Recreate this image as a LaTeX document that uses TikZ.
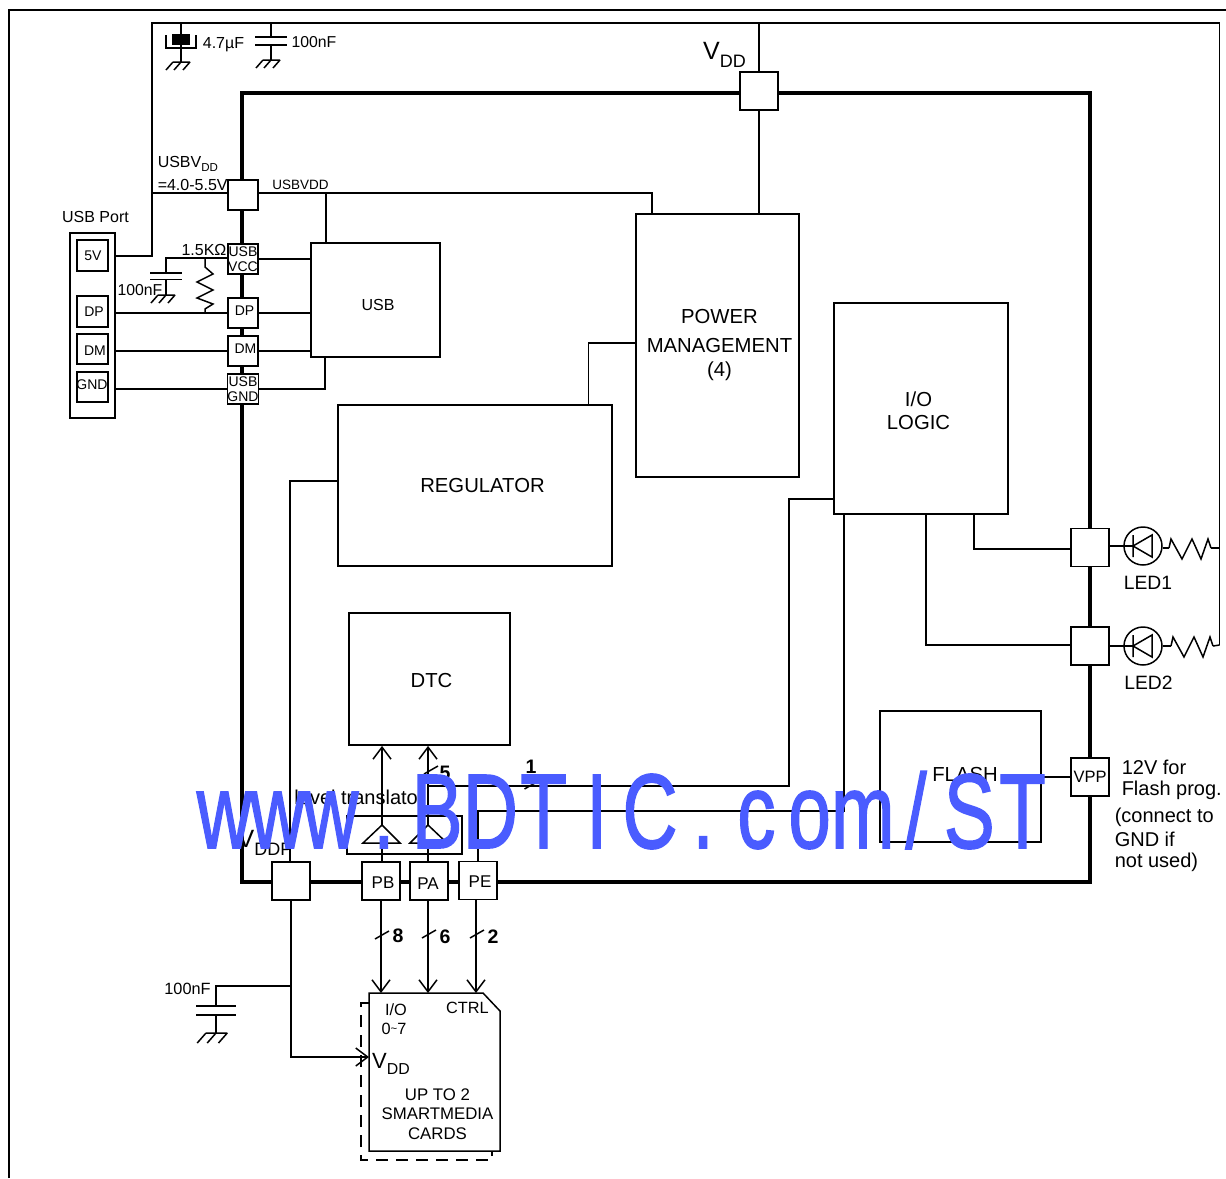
\documentclass[tikz,border=0pt]{standalone}
\usepackage{fontspec}
\setmainfont{Liberation Sans}
\newfontfamily\stampfont[FakeBold=1.6]{Liberation Sans}
\usetikzlibrary{positioning,arrows.meta,calc}
\definecolor{stampblue}{HTML}{4A5CFF}
\newcommand{\lowsub}[1]{\raisebox{-0.3em}{\scalebox{0.72}{#1}}}
\newcommand{\fsz}[1]{\fontsize{#1}{#1}\selectfont}
\newcommand{\stampchar}[1]{\scalebox{0.72}[1]{\makebox[73.9pt]{#1}}}

\begin{document}
\begin{tikzpicture}[
    x=1pt, y=-1pt, line width=1.5pt, >={Straight Barb[length=12pt,width=18pt]},
    font=\fsz{16},
    pad/.style={draw, fill=white, line width=1.8pt, inner sep=0pt, minimum size=30pt, align=center, font=\fontsize{14}{15}\selectfont},
    bigpad/.style={pad, minimum size=38pt, font=\fsz{17}},
    portpin/.style={pad, minimum size=30.5pt},
    blk/.style={draw, line width=1.8pt, inner sep=0pt, align=center},
    txt/.style={inner sep=0pt, align=center},
    lab/.style={txt, font=\fsz{15.8}},
    padtxt/.style={txt, font=\fsz{14}},
    bigtxt/.style={txt, font=\fsz{20.3}},
    portxt/.style={txt, font=\fsz{17}},
    note/.style={inner sep=0pt, align=left, anchor=west, font=\fsz{20}},
    cnt/.style={inner sep=0pt, font=\bfseries\fsz{19.5}},
    led/.style={draw, circle, line width=1.5pt, inner sep=0pt, minimum size=38pt},
    gnd/.pic={\draw (-8,0) -- (9,0) (-8,0) -- (-15,8) (0,0) -- (-7,8) (9,0) -- (2,8);},
    zig/.pic={\draw (0,0) -- (2,-9) -- (13,11) -- (23,-9) -- (32,11) -- (39,-9) -- (42,0);},
    tick/.pic={\draw (-7,4) -- (7,-4);}]
  \useasboundingbox (0,0) rectangle (1226,1178);
  % frame
  \coordinate (fbl) at (9,1178);
  \coordinate (ftl) at (9,10);
  \coordinate (ftr) at (1226,10);
  \draw (fbl) -- (ftl) -- (ftr);
  % chip outline
  \node[draw, line width=4.5pt, minimum width=848pt, minimum height=789pt, inner sep=0pt] (chip) at (666,487.5) {};
  % blocks
  \node[blk, minimum width=163pt, minimum height=263pt] (power) at (717.5,345.5) {};
  \node[bigtxt] (powertxt) at (719.5,345) {POWER\\[9pt]MANAGEMENT\\[3pt](4)};
  \node[blk, minimum width=174pt, minimum height=211pt] (iologic) at (921,408.5) {};
  \node[bigtxt] (iotxt) at (918.5,411) {I/O\\[3pt]LOGIC};
  \node[blk, minimum width=274pt, minimum height=161pt] (reg) at (475,485.5) {};
  \node[bigtxt] (regtxt) at (482.5,486) {REGULATOR};
  \node[blk, minimum width=161pt, minimum height=132pt] (dtc) at (429.5,679) {};
  \node[bigtxt] (dtctxt) at (431.5,681) {DTC};
  \node[blk, minimum width=161pt, minimum height=131pt] (flash) at (960.5,776.5) {};
  \node[bigtxt] (flashtxt) at (965,775) {FLASH};
  \node[blk, minimum width=129pt, minimum height=114pt] (usb) at (375.5,300) {};
  \node[txt, font=\fsz{16}] (usbtxt) at (378,305) {USB};
  % usb port
  \node[draw, line width=1.8pt, minimum width=45pt, minimum height=185pt, inner sep=0pt] (port) at (92.5,325.5) {};
  \node[portpin] (p5v) at (92.5,255.5) {};
  \node[portpin] (pdp) at (92.5,311.5) {};
  \node[portpin] (pdm) at (92.5,349) {};
  \node[portpin] (pgnd) at (92.5,387) {};
  \node[padtxt] (p5vtxt) at (93,256) {5V};
  \node[padtxt] (pdptxt) at (94,312) {DP};
  \node[padtxt] (pdmtxt) at (95,351) {DM};
  \node[padtxt] (pgndtxt) at (92,385) {GND};
  \node[lab, font=\fsz{16}] (porttxt) at (95.5,217) {USB Port};
  % pads
  \node[bigpad] (vddpad) at (759,91) {};
  \node[pad] (usbvdd) at (243,195) {};
  \node[pad] (usbvcc) at (243,259) {USB\\VCC};
  \node[pad] (paddp) at (243,313) {};
  \node[pad] (paddm) at (243,351) {};
  \node[pad] (usbgnd) at (243,389) {USB\\GND};
  \node[padtxt] (dptxt) at (244.5,311) {DP};
  \node[padtxt] (dmtxt) at (245.5,349) {DM};
  \node[bigpad] (led1pad) at (1090,547.5) {};
  \node[bigpad] (led2pad) at (1090,646) {};
  \node[bigpad, font=\fsz{16.5}] (vpp) at (1090,777) {VPP};
  \node[bigpad] (vddp) at (291,881) {};
  \node[bigpad] (pb) at (381,881) {};
  \node[bigpad] (pa) at (429,881) {};
  \node[bigpad] (pe) at (478,880.5) {};
  \node[portxt] (pbtxt) at (383,882.5) {PB};
  \node[portxt] (patxt) at (428,883.5) {PA};
  \node[portxt] (petxt) at (480,881.5) {PE};
  % level translator
  \node[draw, line width=1.5pt, minimum width=115pt, minimum height=38pt, inner sep=0pt] (level) at (404.5,835) {};
  \node[txt, font=\fsz{20}] (leveltxt) at (359.5,797) {level translator};
  % card
  \coordinate (cardtl) at (369,993);
  \coordinate (cardc1) at (483,993);
  \coordinate (cardc2) at (500,1011);
  \coordinate (cardbr) at (500,1151);
  \coordinate (cardbl) at (369,1151);
  \draw (cardtl) -- (cardc1) -- (cardc2) -- (cardbr) -- (cardbl) -- cycle;
  \coordinate (slot1) at (369,1003);
  \coordinate (slot2) at (361,1003);
  \coordinate (slot3) at (361,1160);
  \coordinate (slot4) at (492,1160);
  \coordinate (slot5) at (492,1151);
  \draw[dashed, dash pattern=on 12pt off 8pt] (slot1) -- (slot2) -- (slot3) -- (slot4) -- (slot5);
  % supply rail
  \coordinate (rail1) at (152,256);
  \coordinate (rail2) at (152,23);
  \coordinate (rail3) at (1219.5,23);
  \coordinate (rail4) at (1219.5,645);
  \coordinate (railusb) at (152,193);
  \draw (rail1 -| port.east) -- (rail1) -- (rail2) -- (rail3) -- (rail4);
  \draw (railusb) -- (railusb -| usbvdd.west);
  \draw (vddpad |- rail2) -- (vddpad.north);
  \draw (vddpad.south) -- (vddpad |- power.north);
  % top caps
  \coordinate (c47t) at (181,23);
  \coordinate (c47b) at (181,62);
  \node[draw, fill=black, inner sep=0pt, minimum width=16pt, minimum height=9pt] (c47) at (181,39.5) {};
  \coordinate (cup1) at (166,35);
  \coordinate (cup2) at (166,48);
  \coordinate (cup3) at (196,48);
  \coordinate (cup4) at (196,35);
  \draw (cup1) -- (cup2) -- (cup3) -- (cup4);
  \draw (c47t) -- (c47) -- (c47b);
  \pic at (c47b) {gnd};
  \node[lab, font=\fsz{16}] (c47txt) at (223.5,45) {4.7µF};
  \coordinate (c100t) at (271,23);
  \coordinate (c100b) at (271,60);
  \coordinate (c100a) at (271,37);
  \coordinate (c100d) at (271,45);
  \draw (c100t) -- (c100a) (c100d) -- (c100b);
  \draw ($(c100a)+(-16,0)$) -- ++(32,0) ($(c100d)+(-16,0)$) -- ++(32,0);
  \pic at (c100b) {gnd};
  \node[lab] (c100txt) at (314,42) {100nF};
  \node[txt, font=\fsz{25}] (vddtxt) at (724.5,55) {V\lowsub{DD}};
  % usb side
  \node[inner sep=0pt, anchor=west, font=\fsz{16}] (usbvddtxt) at (157,164) {USBV\lowsub{DD}};
  \node[inner sep=0pt, anchor=west, font=\fsz{16}] (rangetxt) at (157,185) {=4.0-5.5V};
  \node[txt, font=\fsz{13.5}] (netlab) at (300.5,184.5) {USBVDD};
  \coordinate (netpm) at (652,193);
  \coordinate (netusb) at (326,193);
  \draw (usbvdd.east |- netpm) -- (netpm) -- (netpm |- power.north);
  \draw (netusb) -- (netusb |- usb.north);
  \draw (usbvcc.east) -- (usbvcc.east -| usb.west);
  \draw (paddp.west -| port.east) -- (paddp.west);
  \draw (paddp.east) -- (paddp.east -| usb.west);
  \draw (paddm.west -| port.east) -- (paddm.west);
  \draw (paddm.east) -- (paddm.east -| usb.west);
  \draw (usbgnd.west -| port.east) -- (usbgnd.west);
  \coordinate (gndusb) at (325,389);
  \draw (usbgnd.east) -- (gndusb) -- (gndusb |- usb.south);
  % pull-up
  \coordinate (pull1) at (166,258);
  \coordinate (pull2) at (205,258);
  \coordinate (pull3) at (205,313);
  \coordinate (cpl1) at (166,273);
  \coordinate (cpl2) at (166,279.5);
  \coordinate (cpl3) at (166,295);
  \draw (cpl1) -- (pull1) -- (pull1 -| usbvcc.west);
  \draw (cpl2) -- (cpl3);
  \draw ($(cpl1)+(-16,0)$) -- ++(32,0) ($(cpl2)+(-16,0)$) -- ++(32,0);
  \pic at (cpl3) {gnd};
  \draw (pull2) -- ++(0,9) -- ++(8,7) -- ++(-16,8) -- ++(16,8) -- ++(-16,8) -- ++(16,6) -- ++(-8,5) -- (pull3);
  \node[lab, font=\fsz{16}] (ohmtxt) at (204,249.5) {1.5KΩ};
  \node[lab] (c100btxt) at (140,290) {100nF};
  % regulator, power
  \coordinate (regup) at (588.5,343);
  \draw (reg.north -| regup) -- (regup) -- (regup -| power.west);
  \coordinate (regleft) at (290,481);
  \draw (regleft -| reg.west) -- (regleft) -- (regleft |- vddp.north);
  % IO logic
  \coordinate (ioa) at (789,499);
  \coordinate (iob) at (789,786);
  \coordinate (ioc) at (428,786);
  \draw (ioa -| iologic.west) -- (ioa) -- (iob) -- (ioc);
  \coordinate (iod) at (844,811);
  \coordinate (ioe) at (478,811);
  \draw (iod |- iologic.south) -- (iod) -- (ioe) -- (ioe |- pe.north);
  \coordinate (ioled1) at (974,549);
  \coordinate (ioled2) at (926,645);
  \draw (ioled1 |- iologic.south) -- (ioled1) -- (ioled1 -| led1pad.west);
  \draw (ioled2 |- iologic.south) -- (ioled2) -- (ioled2 -| led2pad.west);
  \draw (flash.east |- vpp) -- (vpp.west);
  % LEDs
  \node[led] (led1) at (1143,546) {};
  \node[led] (led2) at (1143,646) {};
  \draw (led1pad.east |- led1) -- (1133,546);
  \draw (led2pad.east |- led2) -- (1133,646);
  \draw (1133,535) -- (1133,557) (1133,546) -- (1152,535) -- (1152,557) -- cycle;
  \draw (1133,635) -- (1133,657) (1133,646) -- (1152,635) -- (1152,657) -- cycle;
  \coordinate (rled1) at (1169,548);
  \coordinate (rled2) at (1171,646);
  \draw (led1.east |- rled1) -- (rled1);
  \draw (led2.east |- rled2) -- (rled2);
  \pic at (rled1) {zig};
  \pic at (rled2) {zig};
  \draw (1211,548) -- (rail3 |- rled1);
  \draw (1213,646) -- (rail4);
  \node[txt, font=\fsz{19.3}] (led1txt) at (1148,583) {LED1};
  \node[txt, font=\fsz{19.3}] (led2txt) at (1148.5,683) {LED2};
  \node[note] (vpp1) at (1121,767) {12V for};
  \node[note] (vpp2) at (1121,790) {Flash prog.};
  \node[note] (vpp3) at (1114,817) {(connect to};
  \node[note] (vpp4) at (1114,839) {GND if};
  \node[note] (vpp5) at (1114,862) {not used)};
  % DTC buses
  \coordinate (pbup) at (382,745);
  \coordinate (paup) at (428,745);
  \draw[->] (pbup |- pb.north) -- (pbup |- dtc.south);
  \draw[->] (paup |- pa.north) -- (paup |- dtc.south);
  \draw[fill=white] (382,825) -- (363,843) -- (400,843) -- cycle;
  \draw[fill=white] (428,825) -- (410,843) -- (447,843) -- cycle;
  \draw (pbup |- level.north) -- (382,825);
  \draw (paup |- level.north) -- (428,825);
  \draw (382,854) -- (382,843);
  \draw (428,854) -- (428,843);
  \pic at (431,770) {tick};
  \pic at (531.5,785) {tick};
  \node[cnt] (n5) at (445,773) {5};
  \node[cnt] (n1) at (531,767) {1};
  \node[txt, font=\fsz{25}] (vddptxt) at (265,843) {V\lowsub{DDP}};
  % card buses
  \coordinate (cardio) at (381,993);
  \coordinate (cardpa) at (428,993);
  \coordinate (cardct) at (476,993);
  \draw[->] (cardio |- pb.south) -- (cardio);
  \draw[->] (cardpa |- pa.south) -- (cardpa);
  \draw[->] (cardct |- pe.south) -- (cardct);
  \pic at (382,935) {tick};
  \pic at (429,934) {tick};
  \pic at (477,934) {tick};
  \node[cnt] (n8) at (398,936) {8};
  \node[cnt] (n6) at (445,937) {6};
  \node[cnt] (n2) at (493,937) {2};
  \coordinate (vcard) at (291,1057);
  \draw[->] (vddp.south) -- (vcard) -- (vcard -| cardtl);
  % VDDP cap
  \coordinate (cvt) at (291,986);
  \coordinate (cva) at (216,986);
  \coordinate (cvb) at (216,1006);
  \coordinate (cvc) at (216,1015);
  \coordinate (cvd) at (216,1033);
  \draw (cvt) -- (cva) -- (cvb) (cvc) -- (cvd);
  \draw ($(cvb)+(-20,0)$) -- ++(40,0) ($(cvc)+(-20,0)$) -- ++(40,0);
  \pic[scale=1.25] at (cvd) {gnd};
  \node[lab, font=\fsz{16.3}] (cvtxt) at (187.5,989) {100nF};
  % card labels
  \node[lab, font=\fsz{16.3}] (iotxt1) at (396,1010) {I/O};
  \node[lab, font=\fsz{16.3}] (iotxt2) at (394,1029) {0\raisebox{0.1em}{\scalebox{0.7}{\textasciitilde}}7};
  \node[lab, font=\fsz{16.3}] (ctrltxt) at (467.5,1008) {CTRL};
  \node[txt, font=\fsz{22}] (vddcard) at (391,1064) {V\lowsub{DD}};
  \node[txt, font=\fsz{16.8}] (cardtxt) at (437.5,1114) {UP TO 2\\[2.5pt]SMARTMEDIA\\[2.5pt]CARDS};
  % stamp
  \node[inner sep=0pt, anchor=base west, text=stampblue, font=\stampfont\fsz{106}] (stamp) at (197,848)
    {\foreach \ch in {w,w,w,.,B,D,T,I,C,.,c,o,m,/,S,T}{\stampchar{\ch}}};
\end{tikzpicture}
\end{document}
